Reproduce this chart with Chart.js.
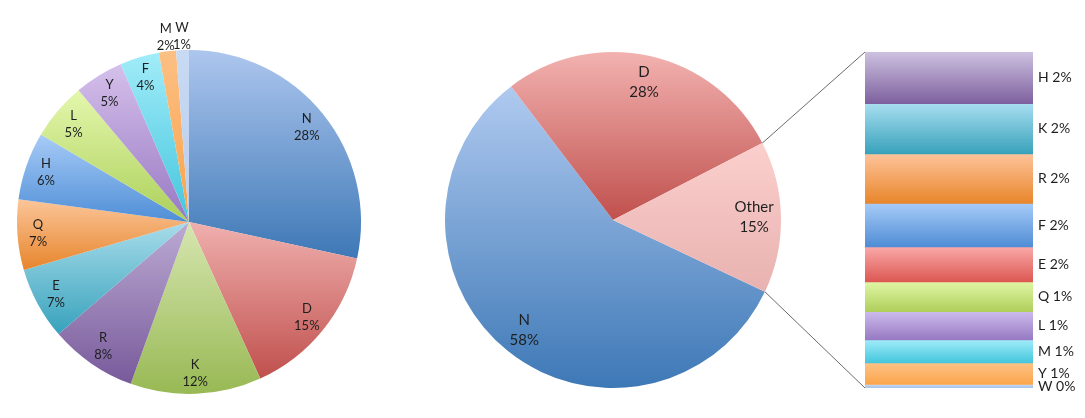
<!DOCTYPE html>
<html>
<head>
<meta charset="utf-8">
<script src="https://cdn.jsdelivr.net/npm/chart.js"></script>
<style>
  html, body { margin: 0; padding: 0; background: #ffffff; }
  body { width: 1085px; height: 418px; position: relative; overflow: hidden; }
  canvas { position: absolute; }
  #left { left: 0; top: 0; }
  #mid { left: 420px; top: 0; }
  #bar { left: 860px; top: 40px; }
  #overlay { left: 0; top: 0; pointer-events: none; }
</style>
</head>
<body>
<canvas id="left" width="400" height="418"></canvas>
<canvas id="mid" width="440" height="418"></canvas>
<canvas id="bar" width="225" height="370"></canvas>
<canvas id="overlay" width="1085" height="418"></canvas>
<script>
// ---- data ----
const leftLabels = ['N', 'D', 'K', 'R', 'E', 'Q', 'H', 'L', 'Y', 'F', 'M', 'W'];
const leftValues = [28.4, 14.8, 12.3, 8.2, 6.8, 6.6, 6.4, 5.4, 4.6, 3.7, 1.6, 1.2];

const midLabels = ['N', 'D', 'Other'];
const midValues = [57.6, 27.8, 14.6];

const barLabels = ['H', 'K', 'R', 'F', 'E', 'Q', 'L', 'M', 'Y', 'W'];
const barValues = [2.23, 2.17, 2.14, 1.88, 1.52, 1.28, 1.22, 1.0, 0.93, 0.15];

// ---- colours (top, bottom of gradient) ----
const leftTop    = ['#adc6ee', '#efb0ae', '#d6e6b0', '#bcaad3', '#a8dcea', '#fbc599', '#a7cbf6', '#e4f7ad', '#d5c0eb', '#a2ecf9', '#fcc084', '#c8daf3'];
const leftBottom = ['#3d78b6', '#c0504d', '#98b954', '#785a9b', '#37a2bc', '#e7852b', '#4f8ed7', '#acd05a', '#9878c2', '#43c5dd', '#f8a24c', '#b8cdef'];
const midTop     = ['#b0caf0', '#f2b2b0', '#fbcfcd'];
const midBottom  = ['#3d78b6', '#c0504d', '#e8b2b0'];
const barTop     = ['#cdc1e0', '#a8def0', '#fec39a', '#a7cbf8', '#faa9a8', '#e0f6a6', '#cdbbec', '#a0ecf9', '#fdc285', '#c4d7f2'];
const barBottom  = ['#7d609e', '#38a2bb', '#e8862b', '#4f8dd5', '#dc5752', '#afcf5a', '#977ac3', '#43c6dc', '#fba54b', '#a9c3ea'];

const FONT = 'Lato, "Open Sans", sans-serif';
const TEXT_COLOR = '#1e1e1e';

function angleIn(a, a0, a1) {
  const TWO = Math.PI * 2;
  let t = a;
  while (t < a0) t += TWO;
  while (t > a0 + TWO) t -= TWO;
  return t <= a1;
}

function pieGradient(tops, bottoms, rotationDeg) {
  return function (ctx) {
    const chart = ctx.chart;
    const area = chart.chartArea;
    const i = ctx.dataIndex;
    if (!area || i === undefined) return tops[i || 0];
    const data = ctx.dataset.data;
    const total = data.reduce((a, b) => a + b, 0);
    let cum = 0;
    for (let k = 0; k < i; k++) cum += data[k];
    const cx = (area.left + area.right) / 2;
    const cy = (area.top + area.bottom) / 2;
    const r = Math.min(area.right - area.left, area.bottom - area.top) / 2;
    const a0 = -Math.PI / 2 + rotationDeg * Math.PI / 180 + 2 * Math.PI * cum / total;
    const a1 = a0 + 2 * Math.PI * data[i] / total;
    let ys = [cy, cy + r * Math.sin(a0), cy + r * Math.sin(a1)];
    if (angleIn(Math.PI / 2, a0, a1)) ys.push(cy + r);
    if (angleIn(-Math.PI / 2, a0, a1)) ys.push(cy - r);
    const ymin = Math.min(...ys), ymax = Math.max(...ys);
    const g = chart.ctx.createLinearGradient(0, ymin, 0, Math.max(ymax, ymin + 1));
    g.addColorStop(0, tops[i]);
    g.addColorStop(1, bottoms[i]);
    return g;
  };
}

function pieLabelPlugin(fontSize, lineH, insideFrac, outsideFrac, smallLimit) {
  return {
    id: 'pieLabels',
    afterDatasetsDraw(chart) {
      const ctx = chart.ctx;
      const meta = chart.getDatasetMeta(0);
      const data = chart.data.datasets[0].data;
      const total = data.reduce((a, b) => a + b, 0);
      ctx.save();
      ctx.font = fontSize + 'px ' + FONT;
      ctx.fillStyle = TEXT_COLOR;
      ctx.textAlign = 'center';
      ctx.textBaseline = 'middle';
      meta.data.forEach((arc, i) => {
        const pct = data[i] / total * 100;
        const mid = (arc.startAngle + arc.endAngle) / 2;
        const frac = pct < smallLimit ? outsideFrac : insideFrac;
        const x = arc.x + Math.cos(mid) * arc.outerRadius * frac;
        const y = arc.y + Math.sin(mid) * arc.outerRadius * frac;
        ctx.fillText(chart.data.labels[i], x, y - lineH / 2);
        ctx.fillText(Math.round(pct + 1e-9) + '%', x, y + lineH / 2);
      });
      ctx.restore();
    }
  };
}

const commonPieOpts = (padding, rotation) => ({
  responsive: false,
  animation: false,
  rotation: rotation,
  layout: { padding: padding },
  plugins: { legend: { display: false }, tooltip: { enabled: false } },
  elements: { arc: { borderWidth: 0 } }
});

const leftChart = new Chart(document.getElementById('left'), {
  type: 'pie',
  data: {
    labels: leftLabels,
    datasets: [{ data: leftValues, backgroundColor: pieGradient(leftTop, leftBottom, 0), borderWidth: 0 }]
  },
  options: commonPieOpts({ left: 17, top: 50, right: 39, bottom: 24 }, 0),
  plugins: [pieLabelPlugin(13, 17, 0.88, 1.08, 3)]
});

const MID_ROT = 115.3;
const midChart = new Chart(document.getElementById('mid'), {
  type: 'pie',
  data: {
    labels: midLabels,
    datasets: [{ data: midValues, backgroundColor: pieGradient(midTop, midBottom, MID_ROT), borderWidth: 0 }]
  },
  options: commonPieOpts({ left: 25, top: 52, right: 79, bottom: 30 }, MID_ROT),
  plugins: [pieLabelPlugin(15, 20, 0.84, 1.08, 3)]
});

const barLabelPlugin = {
  id: 'barLabels',
  afterDatasetsDraw(chart) {
    const ctx = chart.ctx;
    const area = chart.chartArea;
    ctx.save();
    ctx.font = '14px ' + FONT;
    ctx.fillStyle = TEXT_COLOR;
    ctx.textAlign = 'left';
    ctx.textBaseline = 'middle';
    chart.data.datasets.forEach((ds, i) => {
      const el = chart.getDatasetMeta(i).data[0];
      const y = (el.y + el.base) / 2;
      ctx.fillText(ds.label + ' ' + Math.round(ds.data[0]) + '%', area.right + 5, y);
    });
    ctx.restore();
  }
};

function barGradient(i) {
  return function (ctx) {
    const chart = ctx.chart;
    const ys = chart.scales && chart.scales.y;
    if (!chart.chartArea || !ys) return barTop[i];
    let cum = 0;
    for (let k = 0; k < i; k++) cum += barValues[k];
    const y0 = ys.getPixelForValue(cum);
    const y1 = ys.getPixelForValue(cum + barValues[i]);
    const g = chart.ctx.createLinearGradient(0, Math.min(y0, y1), 0, Math.max(y0, y1) + 0.01);
    g.addColorStop(0, barTop[i]);
    g.addColorStop(1, barBottom[i]);
    return g;
  };
}

const barTotal = barValues.reduce((a, b) => a + b, 0);
const barChart = new Chart(document.getElementById('bar'), {
  type: 'bar',
  data: {
    labels: ['Other'],
    datasets: barLabels.map((lab, i) => ({
      label: lab,
      data: [barValues[i]],
      backgroundColor: barGradient(i),
      borderWidth: 0,
      barPercentage: 1,
      categoryPercentage: 1
    }))
  },
  options: {
    responsive: false,
    animation: false,
    layout: { padding: { left: 5, right: 52, top: 12, bottom: 22 } },
    plugins: { legend: { display: false }, tooltip: { enabled: false } },
    scales: {
      x: { stacked: true, display: false },
      y: { stacked: true, display: false, reverse: true, min: 0, max: barTotal }
    }
  },
  plugins: [barLabelPlugin]
});

// ---- connector lines from the "Other" slice to the bar ----
(function drawConnectors() {
  const ov = document.getElementById('overlay').getContext('2d');
  const midCanvas = document.getElementById('mid');
  const barCanvas = document.getElementById('bar');
  const mx = midCanvas.offsetLeft, my = midCanvas.offsetTop;
  const bx = barCanvas.offsetLeft, by = barCanvas.offsetTop;
  const idx = midLabels.indexOf('Other');
  const arc = midChart.getDatasetMeta(0).data[idx];
  const p0 = { x: mx + arc.x + arc.outerRadius * Math.cos(arc.startAngle), y: my + arc.y + arc.outerRadius * Math.sin(arc.startAngle) };
  const p1 = { x: mx + arc.x + arc.outerRadius * Math.cos(arc.endAngle), y: my + arc.y + arc.outerRadius * Math.sin(arc.endAngle) };
  const a = barChart.chartArea;
  ov.strokeStyle = '#5a5a5a';
  ov.lineWidth = 0.9;
  ov.beginPath();
  ov.moveTo(p0.x, p0.y);
  ov.lineTo(bx + a.left, by + a.top);
  ov.moveTo(p1.x, p1.y);
  ov.lineTo(bx + a.left, by + a.bottom);
  ov.stroke();
})();
</script>
</body>
</html>
